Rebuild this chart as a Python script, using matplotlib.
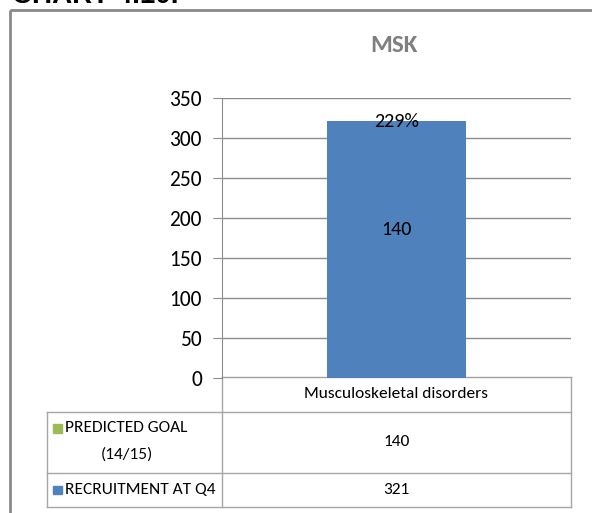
import matplotlib
matplotlib.use("Agg")
import matplotlib.pyplot as plt
from matplotlib.patches import Rectangle
from matplotlib import font_manager as fm

# Data
categories = ["Musculoskeletal disorders"]
series_names = ["PREDICTED GOAL\n(14/15)", "RECRUITMENT AT Q4"]
predicted_goal = [140]
recruitment_q4 = [321]
y_ticks = [0, 50, 100, 150, 200, 250, 300, 350]

BLUE = "#4F81BD"
GREEN = "#9BBB59"
GRID = "#8c8c8c"
CELL = "#a6a6a6"

# Narrow text face: Carlito when present, otherwise condensed DejaVu Sans
_installed = {f.name for f in fm.fontManager.ttflist}
if "Carlito" in _installed:
    FONT = dict(family=["Carlito", "DejaVu Sans"])
else:
    FONT = dict(family=["DejaVu Sans"], stretch="condensed")

W, H = 592, 513
fig = plt.figure(figsize=(W / 100, H / 100), dpi=100)
fig.patch.set_facecolor("white")

# Overlay in pixel coordinates for the frame, heading and data table
ov = fig.add_axes([0, 0, 1, 1])
ov.set_xlim(0, W)
ov.set_ylim(H, 0)
ov.axis("off")

# Plot area
L, R, T, B = 222, 571, 98, 378
ax = fig.add_axes([L / W, (H - B) / H, (R - L) / W, (B - T) / H])
ax.set_xlim(-0.5, 0.5)
ax.set_ylim(0, 350)
ax.tick_params(axis="y", length=6.5, color=GRID, pad=8)
ax.set_yticks(y_ticks)
ax.set_yticklabels([str(t) for t in y_ticks], fontsize=15.5, **FONT)
ax.set_xticks([])
ax.yaxis.grid(True, color=GRID, linewidth=1)
ax.set_axisbelow(True)
for s in ["top", "right", "bottom"]:
    ax.spines[s].set_visible(False)
ax.spines["left"].set_color(GRID)
ax.patch.set_alpha(0)

x = list(range(len(categories)))
ax.bar(x, recruitment_q4, width=0.4, color=BLUE, zorder=3)
for xi, actual, goal in zip(x, recruitment_q4, predicted_goal):
    ax.text(xi, actual, f"{actual / goal:.0%}", ha="center", va="center",
            fontsize=14.5, zorder=4, **FONT)
    ax.text(xi, 186, str(goal), ha="center", va="center",
            fontsize=14.5, zorder=4, **FONT)

# Chart title
ov.text(394, 45, "MSK", fontsize=18, fontweight="bold",
        color="#7f7f7f", ha="center", va="center", **FONT)

# Outer frame and heading
ov.add_patch(Rectangle((10, 10), 600, 520, fill=False, edgecolor="#8a8a8a",
                       linewidth=2))
ov.text(12, 3, "CHART 4.10.", fontsize=20, fontweight="bold",
        family=["Liberation Sans", "DejaVu Sans"], va="baseline", ha="left")

# Data table under the plot
TL, TR = 47, 571
rows_y = [377, 412, 473, 507]
lw = 1
ov.plot([L, TR], [rows_y[0], rows_y[0]], color=CELL, lw=lw)
ov.plot([L, L], [rows_y[0], rows_y[-1]], color=CELL, lw=lw)
ov.plot([TR, TR], [rows_y[0], rows_y[-1]], color=CELL, lw=lw)
ov.plot([TL, TL], [rows_y[1], rows_y[-1]], color=CELL, lw=lw)
for yy in rows_y[1:]:
    ov.plot([TL, TR], [yy, yy], color=CELL, lw=lw)

TXT = 12.5
ov.text((L + TR) / 2, (rows_y[0] + rows_y[1]) / 2, categories[0],
        ha="center", va="center", fontsize=TXT, **FONT)

series_vals = [predicted_goal, recruitment_q4]
series_cols = [GREEN, BLUE]
for i, (name, vals, col) in enumerate(zip(series_names, series_vals, series_cols)):
    y0, y1 = rows_y[i + 1], rows_y[i + 2]
    yc = (y0 + y1) / 2
    first, *rest = name.split("\n")
    ty = yc - 14 if rest else yc
    ov.add_patch(Rectangle((53, ty - 4.5), 8.5, 8.5, color=col))
    ov.text(65, ty, first, ha="left", va="center", fontsize=TXT, **FONT)
    if rest:
        ov.text(127, yc + 12, rest[0], ha="center", va="center",
                fontsize=TXT, **FONT)
    ov.text((L + TR) / 2, yc, str(vals[0]), ha="center", va="center",
            fontsize=TXT, **FONT)

fig.savefig("out.png", dpi=100)
